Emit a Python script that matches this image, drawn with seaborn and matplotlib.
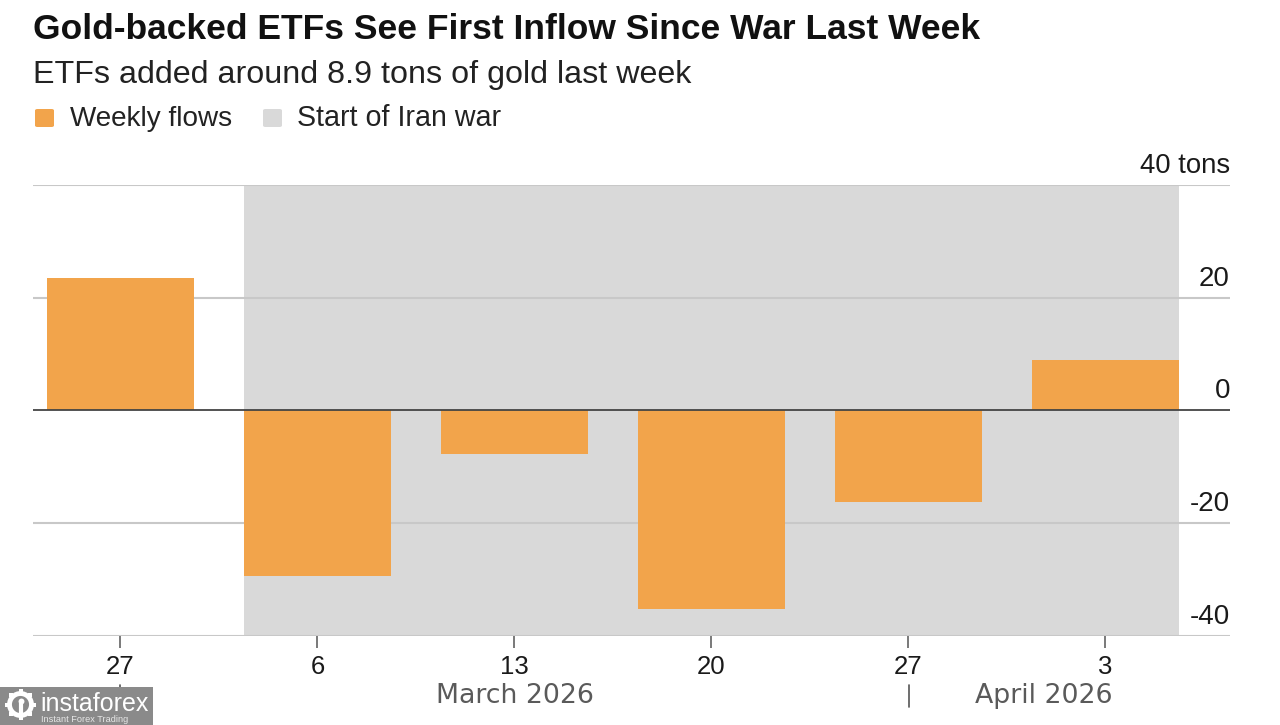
import matplotlib
matplotlib.use('Agg')
import matplotlib.pyplot as plt
from matplotlib.patches import Rectangle, FancyBboxPatch, Circle
import pandas as pd
import seaborn as sns

# values
weeks = ['Feb 27', 'Mar 6', 'Mar 13', 'Mar 20', 'Mar 27', 'Apr 3']
day_labels = ['27', '6', '13', '20', '27', '3']
flows = [23.5, -29.4, -7.7, -35.3, -16.3, 8.9]
y_ticks = [40, 20, 0, -20, -40]
y_labels = ['40 tons', '20', '0', '-20', '-40']
months = ['March 2026', 'April 2026']

ORANGE = '#F2A44B'
GREY = '#D9D9D9'
BAR_W = 0.746

sns.set_theme(style='white')
plt.rcParams['font.family'] = ['Liberation Sans', 'DejaVu Sans']

W, H = 1280, 725
fig = plt.figure(figsize=(W / 100, H / 100), dpi=100)
ax = fig.add_axes([33 / W, 1 - 635.5 / H, (1230 - 33) / W, (635.5 - 185) / H])

df = pd.DataFrame({'week': weeks, 'flow': flows})
sns.barplot(data=df, x='week', y='flow', color=ORANGE, width=BAR_W, saturation=1,
            linewidth=0, edgecolor='none', ax=ax, zorder=3)

ax.set_xlim(-0.444, 5.632)
ax.set_ylim(-40, 40)
ax.axvspan(1 - BAR_W / 2, 5 + BAR_W / 2, color=GREY, lw=0, zorder=0)

# grid
for v in y_ticks:
    if v == 0:
        ax.axhline(v, color='#444444', lw=1.3, zorder=4)
    else:
        ax.axhline(v, color='#C8C8C8', lw=1.5, zorder=1)

for s in ax.spines.values():
    s.set_visible(False)

ax.set_xlabel('')
ax.set_ylabel('')
ax.set_xticks(range(len(weeks)))
ax.set_xticklabels(day_labels, fontsize=18.5, color='#1a1a1a')
ax.tick_params(axis='x', length=8.5, width=1.1, color='#555555', pad=5.5, bottom=True)

ax.yaxis.tick_right()
ax.set_yticks(y_ticks)
ax.set_yticklabels([])
ax.tick_params(axis='y', length=0, right=False)
for v, lab in zip(y_ticks, y_labels):
    # labels sit right-aligned above each gridline
    ax.annotate(lab, (1, v), xycoords=('axes fraction', 'data'), xytext=(0, 4.3 if v != 40 else 4),
                textcoords='offset points', ha='right', va='bottom',
                fontsize=20 if v != 40 else 19.8, color='#1a1a1a')

# header text
fig.text(33 / W, 1 - 39 / H, 'Gold-backed ETFs See First Inflow Since War Last Week',
         fontsize=25.5, fontweight='bold', color='#111111', va='baseline')
fig.text(33 / W, 1 - 83 / H, 'ETFs added around 8.9 tons of gold last week',
         fontsize=23.2, color='#222222', va='baseline')

# legend
fig.add_artist(FancyBboxPatch((35 / W, 1 - 127 / H), 19 / W, 18 / H, boxstyle='round,pad=0,rounding_size=0.002',
                              transform=fig.transFigure, fc=ORANGE, ec='none'))
fig.text(70 / W, 1 - 126 / H, 'Weekly flows', fontsize=20.1, color='#222222', va='baseline')
fig.add_artist(FancyBboxPatch((263 / W, 1 - 127 / H), 19 / W, 18 / H, boxstyle='round,pad=0,rounding_size=0.002',
                              transform=fig.transFigure, fc=GREY, ec='none'))
fig.text(297 / W, 1 - 126 / H, 'Start of Iran war', fontsize=20.6, color='#222222', va='baseline')

# month row
fig.text(514.5 / W, 1 - 703 / H, months[0], fontsize=19.3, color='#5a5a5a', ha='center', va='baseline',
         family='DejaVu Sans')
fig.text(1044 / W, 1 - 703 / H, months[1], fontsize=19.3, color='#5a5a5a', ha='center', va='baseline',
         family='DejaVu Sans')
fig.add_artist(plt.Line2D([909 / W, 909 / W], [1 - 685 / H, 1 - 707 / H], color='#555555', lw=1.2))
fig.add_artist(plt.Line2D([120 / W, 120 / W], [1 - 685 / H, 1 - 707 / H], color='#555555', lw=1.2))

# watermark
fig.add_artist(Rectangle((0, 0), 153 / W, 38 / H, transform=fig.transFigure, fc='#8A8A8A', ec='none', zorder=5))
fig.text(40 / W, 1 - 711 / H, 'instaforex', fontsize=18, color='white', va='baseline', zorder=6)
fig.text(41 / W, 1 - 722.5 / H, 'Instant Forex Trading', fontsize=6.6, color='#E6E6E6', va='baseline', zorder=6)
gear = fig.add_axes([5 / W, 1 - 720 / H, 31 / W, 31 / H], zorder=7)
gear.axis('off')
gear.set_aspect('equal')
gear.add_patch(Circle((0, 0), 0.78, fc='none', ec='white', lw=3.5))
gear.scatter([0.95, -0.95, 0, 0, 0.67, -0.67, 0.67, -0.67], [0, 0, 0.95, -0.95, 0.67, 0.67, -0.67, -0.67],
             marker='s', s=9, c='white', lw=0)
gear.scatter([0], [0.25], s=18, c='white', lw=0)
gear.plot([0, 0], [0.1, -0.75], color='white', lw=3)
gear.set_xlim(-1.1, 1.1)
gear.set_ylim(-1.1, 1.1)

fig.savefig('out.png', dpi=100)
